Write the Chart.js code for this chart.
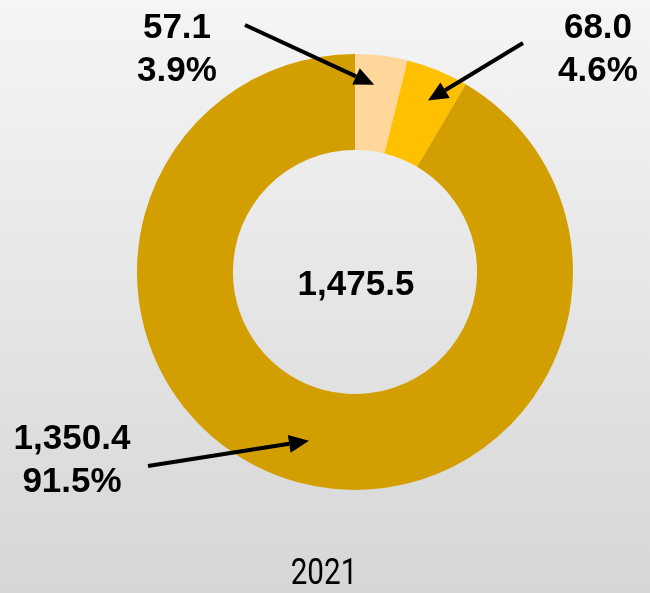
<!DOCTYPE html>
<html>
<head>
<meta charset="utf-8">
<script src="https://cdn.jsdelivr.net/npm/chart.js@4"></script>
<style>
  html, body { margin: 0; padding: 0; }
  body { width: 650px; height: 593px; background: linear-gradient(#f5f5f5, #d6d6d6); overflow: hidden; }
  canvas { display: block; }
</style>
</head>
<body>
<canvas id="chart" width="650" height="593"></canvas>
<script>
const categories = ["Part A", "Part B", "Part C"];
const values = [57.1, 68.0, 1350.4];
const colors = ["#FFD79B", "#FFC000", "#D39F00"];
const yearLabel = "2021";

const total = values.reduce((a, b) => a + b, 0);
const fmt = (v) => v.toLocaleString("en-US", { minimumFractionDigits: 1, maximumFractionDigits: 1 });

// label position, arrow start, and where inside the slice the arrow points (angle frac, radial frac)
const callouts = [
  { x: 177, y: 28, from: [245, 25], at: [0.42, 0.69] },
  { x: 598, y: 28, from: [523, 43], at: [0.55, 0.67] },
  { x: 72, y: 439, from: [148, 466], at: [0.5, 0.55] },
];

function arrow(ctx, x1, y1, x2, y2) {
  const a = Math.atan2(y2 - y1, x2 - x1);
  const len = 20, w = 9;
  const bx = x2 - len * Math.cos(a), by = y2 - len * Math.sin(a);
  ctx.beginPath();
  ctx.moveTo(x1, y1);
  ctx.lineTo(bx, by);
  ctx.lineWidth = 4;
  ctx.strokeStyle = "#000";
  ctx.stroke();
  ctx.beginPath();
  ctx.moveTo(x2, y2);
  ctx.lineTo(bx + w * Math.sin(a), by - w * Math.cos(a));
  ctx.lineTo(bx - w * Math.sin(a), by + w * Math.cos(a));
  ctx.closePath();
  ctx.fillStyle = "#000";
  ctx.fill();
}

const labelsPlugin = {
  id: "labels",
  afterDraw(chart) {
    const ctx = chart.ctx;
    const arcs = chart.getDatasetMeta(0).data;
    ctx.save();
    ctx.textAlign = "center";
    ctx.textBaseline = "middle";
    ctx.fillStyle = "#000";
    ctx.font = "bold 35px 'Liberation Sans', Arial, sans-serif";
    // total in the hole
    ctx.fillText(fmt(total), arcs[0].x + 1, arcs[0].y + 13);

    values.forEach((v, i) => {
      const c = callouts[i];
      ctx.fillText(fmt(v), c.x, c.y);
      ctx.fillText((v / total * 100).toFixed(1) + "%", c.x, c.y + 43);
      const arc = arcs[i];
      const ang = arc.startAngle + (arc.endAngle - arc.startAngle) * c.at[0];
      const r = arc.innerRadius + (arc.outerRadius - arc.innerRadius) * c.at[1];
      arrow(ctx, c.from[0], c.from[1], arc.x + r * Math.cos(ang), arc.y + r * Math.sin(ang));
    });

    // year caption, condensed
    ctx.font = "400 37px Roboto, 'Liberation Sans', sans-serif";
    ctx.fillStyle = "#000";
    ctx.translate(324, 575);
    ctx.scale(0.8, 1);
    ctx.fillText(yearLabel, 0, 0);
    ctx.restore();
  }
};

new Chart(document.getElementById("chart"), {
  type: "doughnut",
  data: {
    labels: categories,
    datasets: [{
      data: values,
      backgroundColor: colors,
      borderWidth: 0,
      hoverOffset: 0,
    }],
  },
  options: {
    responsive: false,
    animation: false,
    cutout: "56%",
    layout: { padding: { left: 137, right: 77, top: 54, bottom: 103 } },
    plugins: {
      legend: { display: false },
      tooltip: { enabled: false },
    },
  },
  plugins: [labelsPlugin],
});
</script>
</body>
</html>
